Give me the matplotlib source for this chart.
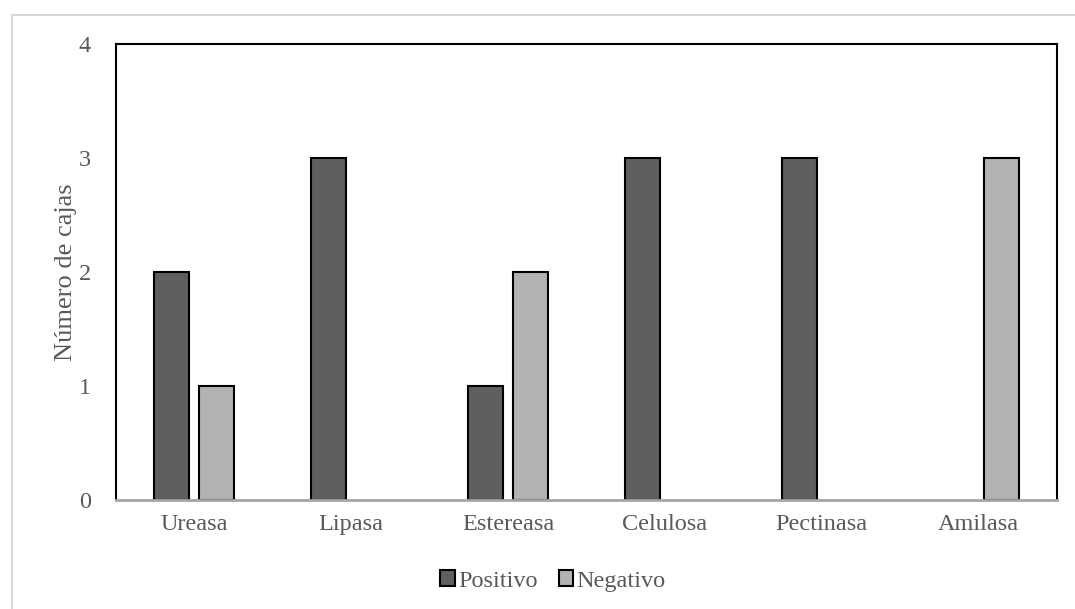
import numpy as np
import matplotlib
matplotlib.use('Agg')
import matplotlib.pyplot as plt
from matplotlib.patches import Rectangle, Patch

plt.rcParams['font.family'] = ['Liberation Serif', 'DejaVu Serif']

enzymes = ['Ureasa', 'Lipasa', 'Estereasa', 'Celulosa', 'Pectinasa', 'Amilasa']
positivo = [2, 3, 1, 3, 3, 0]
negativo = [1, 0, 2, 0, 0, 3]
yticks = [0, 1, 2, 3, 4]

text_color = '#595959'
dark = '#5f5f5f'
light = '#b2b2b2'

fig = plt.figure(figsize=(10.75, 6.09), dpi=100)
# outer chart-area border
fig.patches.append(Rectangle((12 / 1075, -0.1), 1.2, 1 - 15 / 609 + 0.1,
                             transform=fig.transFigure, fill=False,
                             edgecolor='#d9d9d9', linewidth=1.5, zorder=0))

ax = fig.add_axes([116 / 1075, 1 - 500 / 609, 941 / 1075, 456 / 609])

x = np.arange(len(enzymes))
w = 0.223
off = 0.032 + w / 2
pos = np.array(positivo)
neg = np.array(negativo)
# empty categories get no bar outline
ax.bar(x[pos > 0] - off, pos[pos > 0], w, color=dark, edgecolor='black', linewidth=1.5, zorder=2)
ax.bar(x[neg > 0] + off, neg[neg > 0], w, color=light, edgecolor='black', linewidth=1.5, zorder=2)

ax.set_xlim(-0.5, len(enzymes) - 0.5)
ax.set_ylim(0, 4)
ax.set_yticks(yticks)
ax.set_xticks(x)
ax.set_xticklabels(enzymes)
ax.tick_params(length=0, labelsize=17.5, colors=text_color, pad=10)
ax.tick_params(axis='y', pad=18)

for s in ['left', 'top', 'right']:
    ax.spines[s].set_color('black')
    ax.spines[s].set_linewidth(1.5)
ax.spines['bottom'].set_color('#a6a6a6')
ax.spines['bottom'].set_linewidth(2)
ax.spines['bottom'].set_zorder(3)

ax.set_ylabel('Número de cajas', fontsize=19, color=text_color, labelpad=1)

handles = [Patch(facecolor=dark, edgecolor='black', linewidth=1.5, label='Positivo'),
           Patch(facecolor=light, edgecolor='black', linewidth=1.5, label='Negativo')]
fig.legend(handles=handles, loc='center', bbox_to_anchor=(553 / 1075, 1 - 581 / 609),
           ncol=2, frameon=False, fontsize=17.5, handlelength=0.6, handleheight=0.6,
           handletextpad=0.15, columnspacing=0.85, labelcolor=text_color)

fig.savefig('out.png', dpi=100)
